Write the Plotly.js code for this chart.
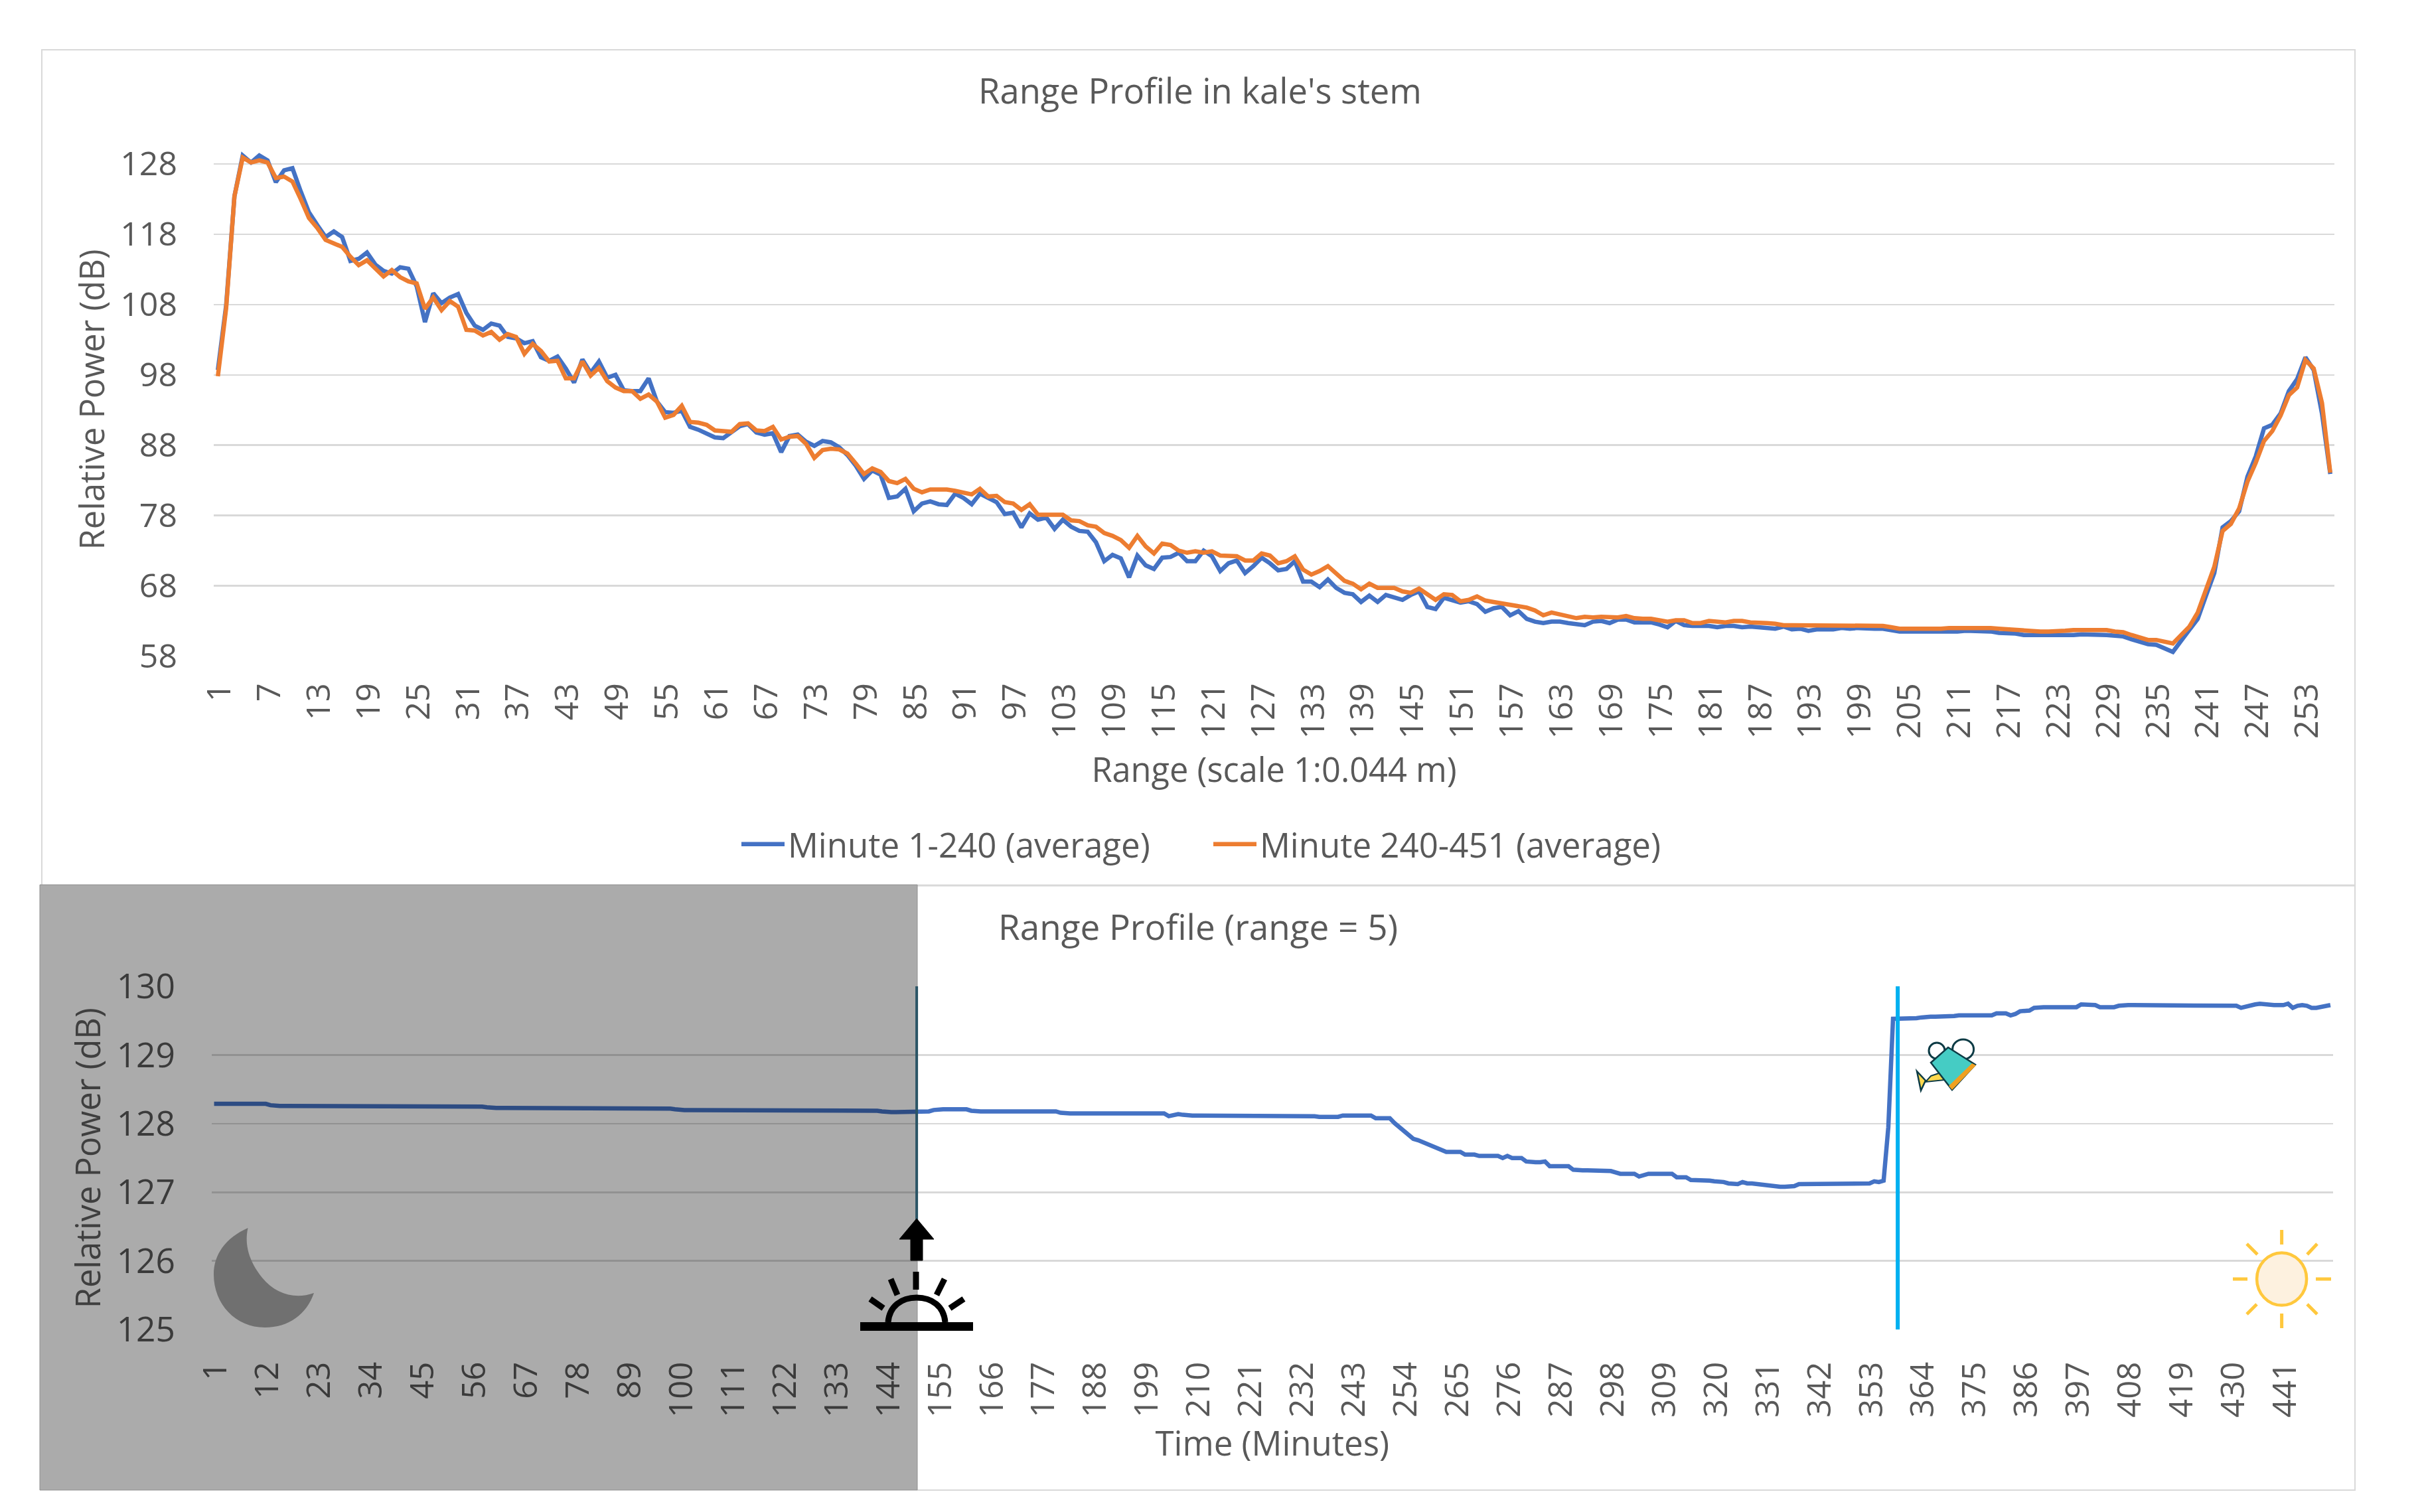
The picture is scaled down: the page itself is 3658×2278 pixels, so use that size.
<!DOCTYPE html>
<html>
<head>
<meta charset="utf-8">
<script src="https://cdn.plot.ly/plotly-3.0.1.min.js"></script>
<style>html,body{margin:0;padding:0;background:#fff}</style>
</head>
<body>
<div id="chart"></div>
<script>
const rangeTicks=[1,7,13,19,25,31,37,43,49,55,61,67,73,79,85,91,97,103,109,115,121,127,133,139,145,151,157,163,169,175,181,187,193,199,205,211,217,223,229,235,241,247,253];
const minuteTicks=[1,12,23,34,45,56,67,78,89,100,111,122,133,144,155,166,177,188,199,210,221,232,243,254,265,276,287,298,309,320,331,342,353,364,375,386,397,408,419,430,441];
const powerTicksTop=[58,68,78,88,98,108,118,128];
const powerTicksBottom=[125,126,127,128,129,130];
const minute1to240=[
98.7,107.9,123.4,129.2,128.2,129.2,128.5,125.4,127.1,127.4,
124.1,121.1,119.3,117.6,118.4,117.6,114.2,114.5,115.4,113.7,
112.8,112.4,113.3,113.1,110.6,105.5,109.6,108.2,109,109.5,
106.8,105,104.4,105.3,105,103.4,103.2,102.5,102.8,100.5,
100,100.6,98.9,96.9,100.2,98.3,99.9,97.6,98,95.8,
95.7,95.7,97.5,94.2,92.7,92.6,92.9,90.6,90.2,89.7,
89.1,89,89.9,90.7,91,89.8,89.5,89.7,87,89.3,
89.5,88.5,87.9,88.6,88.4,87.7,86.6,85.1,83.2,84.4,
83.8,80.5,80.7,81.8,78.6,79.7,80,79.6,79.5,81.1,
80.5,79.6,81.1,80.5,79.9,78.2,78.4,76.3,78.3,77.4,
77.7,76.1,77.4,76.4,75.8,75.7,74.2,71.5,72.4,71.9,
69.2,72.3,70.9,70.4,72,72.1,72.7,71.5,71.5,73,
72.2,70.1,71.2,71.6,69.8,70.8,72,71.2,70.2,70.4,
71.5,68.6,68.6,67.8,68.9,67.7,67,66.8,65.7,66.6,
65.7,66.7,66.3,66,66.7,67.2,65,64.7,66.3,66,
65.6,65.8,65.4,64.3,64.8,65,63.8,64.4,63.3,62.9,
62.7,62.9,62.9,62.7,62.5,62.4,62.9,63,62.7,63.2,
63.2,62.8,62.8,62.8,62.5,62.1,63,62.4,62.3,62.3,
62.3,62.1,62.3,62.3,62.1,62.2,62.1,61.9,61.9,62.2,
61.8,61.9,61.6,61.8,61.8,61.8,62,61.9,62,61.9,
61.9,61.9,61.7,61.5,61.5,61.5,61.4,61.4,61.4,61.5,
61.5,61.6,61.6,61.6,61.5,61.3,61.3,61.2,61,61,
60.9,60.9,61,61,61,61.1,61.1,61.1,61,60.9,
60.8,60.4,60.1,59.7,59.6,59.1,58.6,60.2,61.7,63.3,
66.6,69.8,76.3,77.2,78.6,83.5,86.4,90.4,90.9,92.5,
95.7,97.4,100.5,98.7,92.5,83.9];
const minute240to451=[
97.8,107.5,123.4,128.9,128.2,128.5,128.2,126,126.2,125.5,
123,120.3,118.9,117.2,116.7,116.2,114.8,113.6,114.3,113.1,
112,112.9,111.9,111.3,111,107.4,109,107.2,108.5,107.7,
104.4,104.3,103.6,104.1,103,103.8,103.4,101,102.4,101.4,
99.9,100,97.5,97.5,99.9,97.9,99,97.1,96.2,95.7,
95.7,94.6,95.2,94.2,91.9,92.3,93.6,91.3,91.2,90.9,
90.1,90,89.9,91,91.1,90.1,90,90.6,88.8,89.2,
89.3,88.2,86.2,87.3,87.5,87.4,86.8,85.4,83.9,84.7,
84.2,82.9,82.6,83.2,81.8,81.3,81.7,81.7,81.7,81.5,
81.2,81,81.8,80.7,80.8,79.9,79.7,78.8,79.6,78.1,
78.1,78.1,78.1,77.3,77.2,76.6,76.4,75.5,75.1,74.5,
73.4,75.1,73.6,72.6,74,73.8,73,72.7,72.9,72.7,
72.9,72.3,72.3,72.2,71.6,71.6,72.6,72.3,71.2,71.5,
72.2,70.3,69.6,70.1,70.8,69.7,68.7,68.3,67.5,68.3,
67.7,67.7,67.7,67.2,67,67.6,66.8,66,66.8,66.7,
65.8,66,66.5,65.9,65.7,65.5,65.3,65,64.9,64.5,
63.8,64.2,63.9,63.6,63.4,63.6,63.5,63.6,63.6,63.5,
63.7,63.4,63.3,63.3,63.1,62.9,63.1,63.1,62.7,62.7,
63,62.9,62.8,63,63,62.8,62.8,62.7,62.6,62.4,
62.4,62.4,62.4,62.3,62.3,62.3,62.4,62.3,62.3,62.3,
62.3,62.3,62.1,61.9,61.9,61.9,61.9,61.8,61.9,62,
62,62,62.1,62,62,61.9,61.8,61.8,61.7,61.6,
61.5,61.5,61.5,61.6,61.7,61.7,61.7,61.7,61.7,61.5,
61.4,61,60.7,60.3,60.3,60.1,59.8,61,62.2,64.2,
67.5,70.7,75.8,76.8,79,82.8,85.5,88.6,90,92.2,
95.1,96.2,100.1,98.9,94,84.1];
const rangeFive=[
128.29,128.29,128.29,128.29,128.29,128.29,128.29,128.29,128.29,128.29,
128.29,128.29,128.27,128.26,128.26,128.26,128.26,128.26,128.26,128.26,
128.26,128.26,128.26,128.26,128.26,128.26,128.26,128.26,128.26,128.26,
128.26,128.26,128.26,128.26,128.26,128.26,128.26,128.26,128.26,128.26,
128.26,128.26,128.26,128.26,128.26,128.26,128.26,128.26,128.26,128.26,
128.26,128.26,128.26,128.26,128.26,128.26,128.26,128.25,128.24,128.23,
128.23,128.23,128.23,128.23,128.23,128.23,128.23,128.23,128.23,128.23,
128.23,128.23,128.23,128.23,128.23,128.23,128.23,128.23,128.23,128.23,
128.23,128.23,128.23,128.23,128.23,128.23,128.23,128.23,128.23,128.23,
128.23,128.23,128.23,128.23,128.23,128.23,128.23,128.22,128.21,128.20,
128.20,128.20,128.20,128.20,128.20,128.20,128.20,128.20,128.20,128.20,
128.20,128.20,128.20,128.20,128.20,128.20,128.20,128.20,128.20,128.20,
128.20,128.20,128.20,128.20,128.20,128.20,128.20,128.20,128.20,128.20,
128.20,128.20,128.20,128.20,128.20,128.20,128.20,128.20,128.20,128.20,
128.20,128.19,128.18,128.17,128.17,128.17,128.17,128.17,128.17,128.18,
128.18,128.18,128.18,128.20,128.21,128.21,128.21,128.21,128.21,128.21,
128.21,128.19,128.18,128.18,128.18,128.18,128.18,128.18,128.18,128.18,
128.18,128.18,128.18,128.18,128.18,128.18,128.18,128.18,128.18,128.18,
128.16,128.15,128.15,128.15,128.15,128.15,128.15,128.15,128.15,128.15,
128.15,128.15,128.15,128.15,128.15,128.15,128.15,128.15,128.15,128.15,
128.15,128.15,128.15,128.11,128.12,128.14,128.13,128.12,128.12,128.12,
128.12,128.12,128.12,128.12,128.12,128.12,128.12,128.12,128.12,128.12,
128.12,128.12,128.12,128.12,128.12,128.12,128.12,128.12,128.12,128.12,
128.12,128.12,128.12,128.11,128.11,128.10,128.10,128.10,128.10,128.10,
128.12,128.12,128.12,128.12,128.12,128.12,128.12,128.08,128.08,128.08,
128.08,128.01,127.95,127.88,127.82,127.78,127.76,127.73,127.70,127.68,
127.64,127.62,127.59,127.59,127.59,127.59,127.55,127.55,127.55,127.53,
127.53,127.53,127.53,127.53,127.50,127.53,127.50,127.50,127.50,127.45,
127.44,127.44,127.44,127.45,127.38,127.38,127.38,127.38,127.38,127.33,
127.32,127.32,127.32,127.32,127.32,127.32,127.32,127.31,127.29,127.27,
127.27,127.27,127.27,127.23,127.25,127.27,127.27,127.27,127.27,127.27,
127.27,127.22,127.22,127.22,127.18,127.18,127.18,127.18,127.17,127.16,
127.16,127.15,127.13,127.13,127.12,127.15,127.13,127.13,127.12,127.12,
127.10,127.09,127.08,127.08,127.08,127.08,127.09,127.12,127.12,127.12,
127.12,127.12,127.12,127.12,127.12,127.12,127.12,127.12,127.12,127.12,
127.12,127.12,127.13,127.16,127.15,127.17,127.95,129.53,129.53,129.53,
129.53,129.54,129.54,129.55,129.56,129.56,129.56,129.56,129.56,129.56,
129.57,129.58,129.58,129.58,129.58,129.58,129.58,129.58,129.58,129.61,
129.61,129.61,129.58,129.60,129.64,129.64,129.65,129.69,129.70,129.70,
129.70,129.70,129.70,129.70,129.70,129.70,129.70,129.74,129.74,129.73,
129.73,129.70,129.70,129.70,129.70,129.72,129.73,129.73,129.73,129.73,
129.73,129.73,129.73,129.73,129.73,129.73,129.73,129.73,129.73,129.73,
129.73,129.73,129.73,129.73,129.73,129.73,129.73,129.73,129.73,129.73,
129.72,129.69,129.71,129.73,129.74,129.75,129.74,129.73,129.73,129.73,
129.73,129.75,129.69,129.72,129.73,129.72,129.69,129.69,129.70,129.71,129.73];
const sunriseMinute=150.4;
const wateringMinute=359;

const W=3658,H=2278;
const FONT='"Open Sans", sans-serif';
const TXT='#595959', GRID='#D9D9D9', BLUE='#4472C4', ORANGE='#ED7D31';
const fx=x=>x/W, fy=y=>1-y/H;
const idx=a=>a.map((_,i)=>i+1);
function path(str){
  const t=str.trim().split(/\s+/); let out=[],isX=true;
  for(const k of t){
    if(/^[A-Za-z]$/.test(k)){out.push(k);isX=true;}
    else{out.push((isX?fx(+k):fy(+k)).toFixed(6));isX=!isX;}
  }
  return out.join(' ');
}
const shp=(d,fill,lineColor,lw)=>({type:'path',xref:'paper',yref:'paper',layer:'above',path:path(d),
  fillcolor:fill||'rgba(0,0,0,0)',line:{color:lineColor||'rgba(0,0,0,0)',width:lw||0}});
const seg=(x0,y0,x1,y1,c,w)=>({type:'line',xref:'paper',yref:'paper',layer:'above',x0:fx(x0),y0:fy(y0),x1:fx(x1),y1:fy(y1),line:{color:c,width:w}});
const rect=(x0,y0,x1,y1,fill,c,w,layer)=>({type:'rect',xref:'paper',yref:'paper',layer:layer||'above',x0:fx(x0),y0:fy(y0),x1:fx(x1),y1:fy(y1),fillcolor:fill,line:{color:c||'rgba(0,0,0,0)',width:w||0}});
const ell=(cx,cy,rx,ry,fill,c,w)=>({type:'circle',xref:'paper',yref:'paper',layer:'above',x0:fx(cx-rx),x1:fx(cx+rx),y0:fy(cy+ry),y1:fy(cy-ry),fillcolor:fill,line:{color:c,width:w}});

const shapes=[
  shp('M 63 1333 L 63 75 L 3548 75 L 3548 2245 L 1382 2245',null,GRID,2),
  seg(1382,1334,3548,1334,GRID,3),
  rect(60,1333,1382,2245,'rgba(0,0,0,0.33)','#8f8f8f',1),
  {type:'line',xref:'x2',yref:'paper',layer:'above',x0:sunriseMinute,x1:sunriseMinute,y0:fy(1486),y1:fy(1845),line:{color:'#2b5566',width:4}},
  shp('M 1381 1836 L 1407 1867 L 1390 1867 L 1390 1899 L 1372 1899 L 1372 1867 L 1355 1867 Z','#000000','#000000',1),
  rect(1296,1992,1466,2005,'#000000'),
  shp('M 1338 1992 C 1340 1968 1358 1955 1381 1955 C 1404 1955 1422 1968 1424 1992',null,'#000000',9),
  seg(1380,1916,1380,1943,'#000000',9),
  seg(1342,1927,1352,1951,'#000000',9),
  seg(1423,1927,1411,1951,'#000000',9),
  seg(1311,1957,1331,1971,'#000000',9),
  seg(1452,1957,1431,1971,'#000000',9),
  shp('M 373.5 1850 C 340 1865 322 1890 322 1920 C 322 1965 355 2000 399 2000 C 435 2000 462 1980 473 1948 C 445 1958 415 1950 395 1925 C 375 1900 368 1875 373.5 1850 Z','#707070'),
  {type:'line',xref:'x2',yref:'paper',layer:'above',x0:wateringMinute,x1:wateringMinute,y0:fy(1486),y1:fy(2003),line:{color:'#00B0F0',width:6}},
  ell(2918,1583,12,12,'#ffffff','#0d3b45',3),
  ell(2957.6,1581,16,15,'#ffffff','#0d3b45',3),
  shp('M 2909 1621 L 2924 1616 L 2930 1627 L 2901 1630 Z','#FFD84D','#0d3b45',2),
  shp('M 2888 1614 L 2901 1628 L 2894 1643 Z','#FFD84D','#0d3b45',2.5),
  shp('M 2935 1578 L 2976 1604 L 2941 1642 L 2909 1601 Z','#45CCC4','#0d3b45',2.5),
  shp('M 2971 1602 L 2977 1605 L 2941 1642 L 2936 1636 Z','#F0A020'),
  ell(3437.6,1927,37.5,39.5,'#FDF1DF','#FFC83D',4.5),
  seg(3437.6,1853,3437.6,1875,'#FFC83D',5),
  seg(3437.6,1979,3437.6,2001,'#FFC83D',5),
  seg(3364,1927,3386,1927,'#FFC83D',5),
  seg(3489,1927,3512,1927,'#FFC83D',5),
  seg(3385,1874,3401,1890,'#FFC83D',5),
  seg(3491,1874,3476,1890,'#FFC83D',5),
  seg(3400,1965,3385,1980,'#FFC83D',5),
  seg(3476,1965,3491,1980,'#FFC83D',5)
];

const axisBase={showline:false,zeroline:false,ticks:'',automargin:false,fixedrange:true};
const layout={
  width:W,height:H,margin:{l:0,r:0,t:0,b:0,pad:0},paper_bgcolor:'#ffffff',plot_bgcolor:'rgba(0,0,0,0)',
  font:{family:FONT,color:TXT},
  title:{text:"Range Profile in kale's stem",font:{family:FONT,size:52.5,color:TXT},x:fx(1808),xanchor:'center',y:fy(138),yanchor:'middle'},
  xaxis:{...axisBase,tickfont:{family:FONT,size:49,color:TXT},domain:[fx(322),fx(3517)],range:[0.5,256.5],tickmode:'array',tickvals:rangeTicks,ticktext:rangeTicks.map(String),tickangle:-90,showgrid:false,ticklabelstandoff:30,ticklabelshift:3,anchor:'y',
    title:{text:'Range (scale 1:0.044 m)',font:{family:FONT,size:50.5,color:TXT},standoff:30}},
  yaxis:{...axisBase,tickfont:{family:FONT,size:50,color:TXT},domain:[fy(988.5),fy(215.2)],range:[58,131],tickmode:'array',tickvals:powerTicksTop,ticktext:powerTicksTop.map(String),gridcolor:GRID,gridwidth:2.5,ticklabelstandoff:54,anchor:'x',
    title:{text:'Relative Power (dB)',font:{family:FONT,size:50.5,color:TXT},standoff:7}},
  xaxis2:{...axisBase,tickfont:{family:FONT,size:49,color:TXT},domain:[fx(319),fx(3514.5)],range:[0.5,451.5],tickmode:'array',tickvals:minuteTicks,ticktext:minuteTicks.map(String),tickangle:-90,showgrid:false,ticklabelstandoff:38,ticklabelshift:3,anchor:'y2',
    title:{text:'Time (Minutes)',font:{family:FONT,size:51,color:TXT},standoff:22}},
  yaxis2:{...axisBase,tickfont:{family:FONT,size:51.5,color:TXT},domain:[fy(2003),fy(1486.4)],range:[125,130],tickmode:'array',tickvals:powerTicksBottom,ticktext:powerTicksBottom.map(String),gridcolor:GRID,gridwidth:2.5,ticklabelstandoff:54,anchor:'x2',
    title:{text:'Relative Power (dB)',font:{family:FONT,size:50.5,color:'#3f3f3f'},standoff:7}},
  legend:{orientation:'h',x:fx(1112),xanchor:'left',y:fy(1232),yanchor:'top',bgcolor:'rgba(0,0,0,0)',font:{family:FONT,size:51,color:TXT},itemwidth:65,entrywidth:631,entrywidthmode:'pixels'},
  annotations:[{text:'Range Profile (range = 5)',xref:'paper',yref:'paper',x:fx(1805),y:fy(1395),xanchor:'center',yanchor:'middle',showarrow:false,font:{family:FONT,size:53,color:TXT}}],
  shapes:shapes
};
const traces=[
  {type:'scatter',mode:'lines',name:'Minute 1-240 (average)',x:idx(minute1to240),y:minute1to240,xaxis:'x',yaxis:'y',line:{color:BLUE,width:6.5},cliponaxis:false},
  {type:'scatter',mode:'lines',name:'Minute 240-451 (average)',x:idx(minute240to451),y:minute240to451,xaxis:'x',yaxis:'y',line:{color:ORANGE,width:6.5},cliponaxis:false},
  {type:'scatter',mode:'lines',name:'Range Profile (range = 5)',x:idx(rangeFive),y:rangeFive,xaxis:'x2',yaxis:'y2',line:{color:BLUE,width:6.5},showlegend:false,cliponaxis:false}
];
Plotly.newPlot('chart',traces,layout,{displayModeBar:false,responsive:false,staticPlot:true});
</script>
</body>
</html>
